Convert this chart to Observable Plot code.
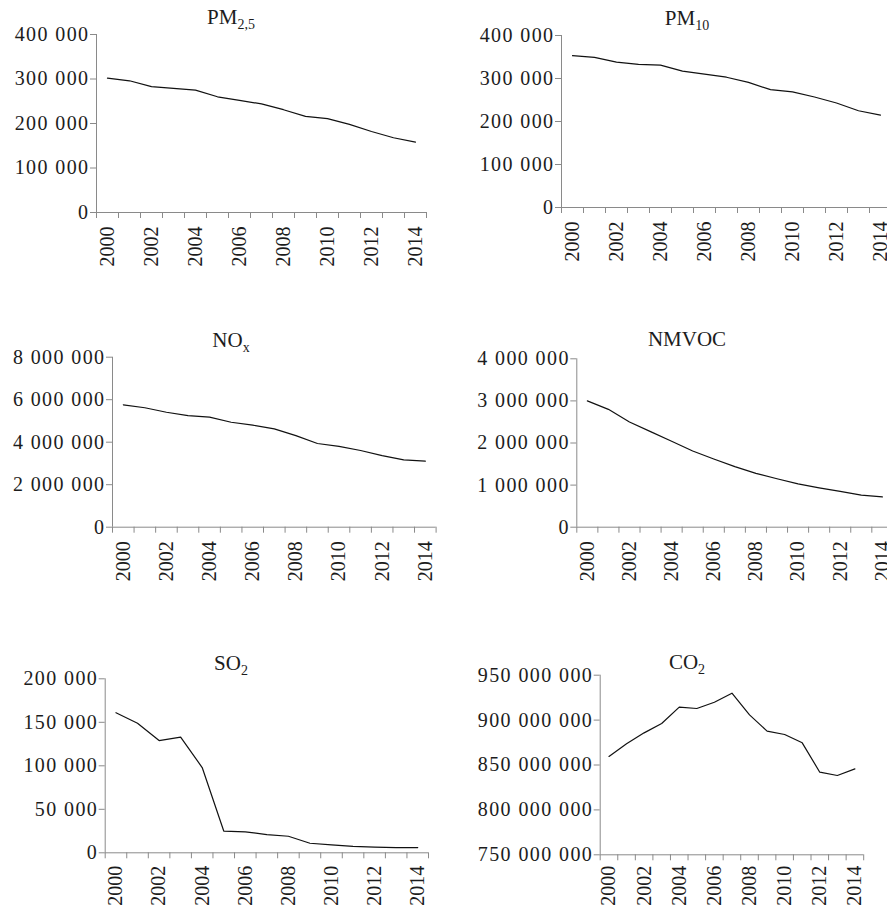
<!DOCTYPE html>
<html><head><meta charset="utf-8">
<script src="https://cdn.jsdelivr.net/npm/d3@7"></script>
<script src="https://cdn.jsdelivr.net/npm/@observablehq/plot@0.6"></script>
<style>
html,body{margin:0;padding:0;background:#fff;overflow:hidden}
#wrap{position:relative;width:887px;height:912px;overflow:hidden;background:#fff}
.panel{position:absolute}
</style></head><body><div id="wrap"></div>
<script>
const years = [2000,2001,2002,2003,2004,2005,2006,2007,2008,2009,2010,2011,2012,2013,2014];
const yearLabels = [2000,2002,2004,2006,2008,2010,2012,2014];

const pm25  = [302000,296000,283000,279000,275000,260000,252000,244000,231000,216000,211000,198000,182000,168000,158000];
const pm10  = [353000,349000,338000,333000,331000,317000,310000,303000,291000,274000,269000,257000,243000,225000,215000];
const nox   = [5760000,5620000,5410000,5250000,5180000,4940000,4800000,4630000,4310000,3940000,3800000,3610000,3370000,3170000,3110000];
const nmvoc = [3000000,2800000,2500000,2270000,2040000,1810000,1620000,1440000,1280000,1150000,1030000,935000,850000,760000,720000];
const so2   = [161000,149000,129000,133000,98000,25000,24000,21000,19000,11000,9000,7300,6500,6000,6000];
const co2   = [859500000,873600000,885800000,896200000,914400000,912900000,919900000,930000000,905800000,887700000,884000000,874700000,842000000,838300000,845700000];

const pm25Ticks  = [0,100000,200000,300000,400000];
const pm10Ticks  = [0,100000,200000,300000,400000];
const noxTicks   = [0,2000000,4000000,6000000,8000000];
const nmvocTicks = [0,1000000,2000000,3000000,4000000];
const so2Ticks   = [0,50000,100000,150000,200000];
const co2Ticks   = [750000000,800000000,850000000,900000000,950000000];

const titles = [
  {main:"PM", sub:"2,5"},
  {main:"PM", sub:"10"},
  {main:"NO", sub:"x"},
  {main:"NMVOC", sub:""},
  {main:"SO", sub:"2"},
  {main:"CO", sub:"2"}
];

const FONT = "'Liberation Serif','Times New Roman',serif";
const INK = "#1c1c1c";
const AXIS = "#8a8a8a";
const fmt = d => d3.format(",")(d).replace(/,/g, " ");

const panels = [
  {values:pm25,  ticks:pm25Ticks,  title:titles[0], L:0,   T:0,   W:443, H:300, ml:96,    mr:17,   mt:34,   mb:88,   tx:231, ty:24,   dy:14},
  {values:pm10,  ticks:pm10Ticks,  title:titles[1], L:443, T:0,   W:460, H:300, ml:118,   mr:12,   mt:35,   mb:93,   tx:244, ty:25,   dy:14},
  {values:nox,   ticks:noxTicks,   title:titles[2], L:0,   T:300, W:443, H:310, ml:112,   mr:7.4,  mt:56.7, mb:83.3, tx:231, ty:46.7, dy:14},
  {values:nmvoc, ticks:nmvocTicks, title:titles[3], L:443, T:300, W:460, H:310, ml:133.3, mr:10.6, mt:58.3, mb:83.3, tx:244, ty:46,   dy:14},
  {values:so2,   ticks:so2Ticks,   title:titles[4], L:0,   T:610, W:443, H:302, ml:104.7, mr:15,   mt:68.3, mb:59.7, tx:231, ty:60,   dy:13},
  {values:co2,   ticks:co2Ticks,   title:titles[5], L:443, T:610, W:444, H:302, ml:156.7, mr:23.8, mt:64.7, mb:57.7, tx:244, ty:59,   dy:11}
];

const wrap = document.getElementById("wrap");
const xmin = years[0] - 0.5, xmax = years[years.length-1] + 0.5;
const boundaries = years.map(y => y - 0.5).concat([xmax]);

for (const p of panels) {
  const data = years.map((y,i) => ({year:y, value:p.values[i]}));
  const yDomain = [p.ticks[0], p.ticks[p.ticks.length-1]];
  const chart = Plot.plot({
    width: p.W, height: p.H,
    marginLeft: p.ml, marginRight: p.mr, marginTop: p.mt, marginBottom: p.mb,
    x: {domain:[xmin, xmax]},
    y: {domain: yDomain},
    style: {fontFamily: FONT, background: "transparent", overflow: "visible", color: INK},
    marks: [
      Plot.axisY({ticks: p.ticks, tickSize: 6, tickFormat: () => "", label: null, color: AXIS}),
      Plot.axisY({ticks: p.ticks, tickSize: 0, tickPadding: 7, tickFormat: fmt, label: null, fontSize: 20, color: INK}),
      Plot.axisX({ticks: boundaries, tickSize: 6, tickFormat: () => "", label: null, color: AXIS}),
      Plot.text(yearLabels, {x: d => d, text: d => String(d), frameAnchor: "bottom", rotate: -90, textAnchor: "end", lineAnchor: "middle", dy: p.dy, fontSize: 20, fill: INK}),
      Plot.ruleX([xmin], {stroke: AXIS}),
      Plot.ruleY([yDomain[0]], {stroke: AXIS}),
      Plot.line(data, {x: "year", y: "value", stroke: "#111", strokeWidth: 1.2})
    ]
  });
  d3.select(chart).selectAll('g[aria-label="y-axis tick label"] text').style("letter-spacing", "1.4px");
  const t = d3.select(chart).append("text")
    .attr("x", p.tx).attr("y", p.ty)
    .attr("text-anchor", "middle")
    .attr("font-family", FONT).attr("font-size", 21).attr("fill", INK);
  t.append("tspan").text(p.title.main);
  if (p.title.sub) {
    t.append("tspan").attr("font-size", 14).attr("dy", 5).text(p.title.sub);
  }
  chart.classList.add("panel");
  chart.style.left = p.L + "px";
  chart.style.top = p.T + "px";
  wrap.appendChild(chart);
}
</script>
</body></html>
